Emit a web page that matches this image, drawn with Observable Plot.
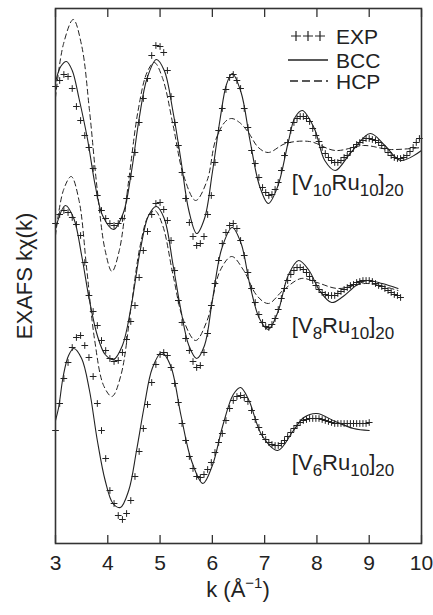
<!DOCTYPE html>
<html><head><meta charset="utf-8">
<script src="https://cdn.jsdelivr.net/npm/d3@7"></script>
<script src="https://cdn.jsdelivr.net/npm/@observablehq/plot@0.6"></script>
<style>
body{margin:0;background:#fff;}
#chart{width:433px;height:615px;}
svg text{font-family:"Liberation Sans",Arial,Helvetica,sans-serif;}
</style></head><body><div id="chart"></div>
<script>
// x ticks
const xTicks = [3,4,5,6,7,8,9,10];

// k positions of experimental samples
const kExp = [3.00,3.08,3.16,3.24,3.32,3.40,3.48,3.56,3.64,3.72,3.80,3.88,3.96,4.04,4.12,4.20,4.28,4.36,4.44,4.52,4.60,4.68,4.76,4.84,4.92,5.00,
  5.07,5.14,5.21,5.28,5.35,5.42,5.49,5.56,5.63,5.70,5.77,5.84,5.91,5.98,6.05,6.12,6.19,6.26,6.33,6.40,6.47,6.54,6.61,6.68,6.75,6.82,6.89,6.96,
  7.02,7.08,7.14,7.20,7.26,7.32,7.38,7.44,7.50,7.56,7.62,7.68,7.74,7.80,7.86,7.92,7.98,8.04,8.10,8.16,8.22,8.28,8.34,8.40,8.46,8.52,8.58,8.64,8.70,8.76,8.82,8.88,8.94,9.00,9.06,9.12,9.18,9.24,9.30,9.36,9.42,9.48,9.54,9.60,9.66,9.72,9.78,9.84,9.90,9.96];

// EXP (offset kχ, arbitrary units)
const expTop = [45.7,46.3,46.9,46.7,45.5,43.7,42.3,40.8,39.6,37.5,34.8,33.3,32.5,32.0,31.8,32.0,32.5,34.5,36.7,39.1,42.1,44.5,46.5,48.8,49.8,49.7,
  49.1,47.3,44.7,42.1,39.8,37.1,34.5,32.1,30.7,29.8,30.0,30.7,32.9,34.8,38.1,41.3,43.5,45.4,46.6,46.9,46.3,45.5,43.5,41.6,39.3,38.0,36.6,35.6,
  35.1,34.8,34.9,35.4,36.1,37.3,38.8,40.1,41.3,42.1,42.5,42.7,42.7,42.5,42.2,41.5,40.8,40.2,39.6,39.0,38.6,38.3,38.1,38.1,38.3,38.6,38.8,39.2,39.6,39.9,40.1,40.3,40.5,40.5,40.4,40.3,40.1,39.8,39.5,39.1,38.8,38.6,38.5,38.5,38.6,38.8,39.2,39.6,40.1,40.5];
const expMid = [32.0,32.9,33.3,33.1,32.6,31.9,30.8,28.1,24.8,23.2,21.8,20.3,19.3,18.5,18.2,18.3,19.1,20.4,22.2,23.8,26.6,29.3,31.2,32.9,34.0,34.1,
  33.4,32.3,30.3,27.3,24.3,22.1,20.5,19.3,18.2,17.6,17.8,19.1,21.0,23.8,26.0,28.3,30.0,31.1,31.8,32.0,31.5,30.3,28.8,27.1,25.5,24.1,22.9,22.1,
  21.7,21.6,21.9,22.5,23.4,24.5,25.5,26.3,26.9,27.3,27.6,27.6,27.4,27.1,26.7,26.3,25.8,25.4,25.1,24.9,24.8,24.8,24.8,25.0,25.2,25.4,25.6,25.8,25.9,26.1,26.2,26.3,26.3,26.3,26.2,26.0,25.8,25.7,25.5,25.3,25.1,24.9,24.8,24.6];
const expBot = [11.3,14.0,16.5,18.1,19.6,20.6,20.8,19.8,18.6,16.7,14.0,11.3,8.5,5.3,4.0,2.8,2.4,3.0,4.3,6.7,9.2,11.5,13.9,16.1,17.9,18.9,
  19.1,18.8,17.6,16.0,14.1,12.0,10.3,8.7,7.5,6.7,6.6,6.9,7.4,8.1,9.1,10.1,11.0,12.3,13.5,14.3,14.7,14.8,14.6,14.2,13.3,12.4,11.6,10.9,
  10.4,10.1,9.9,9.8,9.8,10.0,10.3,10.7,11.1,11.5,11.8,12.1,12.3,12.4,12.5,12.5,12.5,12.5,12.4,12.3,12.2,12.1,12.0,12.0,12.0,12.0,12.0,12.0,12.0,12.0,12.0,12.0,12.0,12.1];

// BCC model
const bccTopK = [3.00,3.10,3.21,3.32,3.45,3.61,3.76,3.90,4.11,4.30,4.45,4.60,4.75,4.93,5.08,5.25,5.40,5.55,5.70,5.85,6.00,6.15,6.27,6.38,6.55,6.72,6.90,7.07,7.25,7.45,7.58,7.72,7.95,8.15,8.35,8.65,9.02,9.30,9.60,10.0];
const bccTopV = [46.1,47.7,48.2,47.3,44.5,40.5,35.8,32.8,31.4,33.1,37.1,42.5,46.5,48.4,47.3,43.1,38.3,33.3,31.0,32.5,37.1,42.5,45.9,47.0,45.1,40.3,35.8,34.0,35.7,40.1,42.6,43.3,41.5,38.3,37.3,39.1,41.0,39.8,38.3,39.3];
const bccMidK = [3.00,3.19,3.35,3.50,3.65,3.80,3.95,4.11,4.28,4.45,4.62,4.78,4.93,5.08,5.25,5.40,5.55,5.70,5.85,6.00,6.18,6.38,6.55,6.72,6.90,7.07,7.25,7.45,7.65,7.85,8.05,8.28,8.50,8.75,8.96,9.25,9.55];
const bccMidV = [31.5,33.8,32.5,28.8,24.3,20.8,18.9,18.4,19.8,23.8,29.3,32.8,33.7,32.5,27.8,23.3,19.8,18.5,19.8,24.3,29.5,31.6,30.0,25.8,22.5,21.4,23.1,26.8,28.3,27.3,25.3,24.1,24.7,25.8,26.3,26.0,25.5];
const bccBotK = [3.00,3.06,3.15,3.25,3.35,3.50,3.65,3.80,3.95,4.10,4.24,4.40,4.55,4.70,4.85,5.03,5.20,5.40,5.60,5.82,6.00,6.20,6.40,6.54,6.70,6.95,7.25,7.55,7.75,8.00,8.35,8.70,9.00];
const bccBotV = [12.3,13.6,16.8,18.8,19.5,18.5,15.3,10.3,6.3,4.0,3.6,5.3,9.3,13.8,17.5,19.1,17.8,12.8,8.3,6.0,7.8,11.8,14.9,15.6,14.3,10.8,9.3,11.3,12.6,13.0,12.2,11.5,11.3];

// HCP model
const hcpTopK = [3.00,3.15,3.34,3.50,3.65,3.80,3.95,4.08,4.22,4.40,4.58,4.75,4.89,5.05,5.25,5.45,5.68,5.90,6.06,6.25,6.37,6.52,6.69,6.88,7.07,7.40,7.86,8.35,8.90,9.40,10.0];
const hcpTopV = [44.6,49.9,52.4,49.8,43.3,35.3,29.3,27.2,29.3,36.3,43.3,47.1,48.1,46.5,41.8,36.8,34.3,36.3,40.3,42.2,42.5,42.1,41.1,39.6,39.1,40.0,40.2,39.3,39.8,39.4,39.6];
const hcpMidK = [3.00,3.15,3.30,3.45,3.60,3.75,3.92,4.08,4.25,4.45,4.62,4.78,4.90,5.05,5.25,5.45,5.68,5.90,6.15,6.37,6.60,6.85,7.07,7.35,7.70,8.00,8.40,8.96,9.55];
const hcpMidV = [30.8,35.3,36.7,34.3,27.3,20.3,15.8,14.7,16.8,23.8,29.8,32.8,33.3,31.8,26.8,22.3,20.3,22.3,27.3,28.7,27.3,24.8,24.0,25.3,26.5,26.1,25.5,26.0,25.3];

// sample labels
const sampleV = ["10","8","6"];
const sampleRu = ["10","10","10"];
const sampleN = ["20","20","20"];
const labelK = [7.53,7.53,7.53];
const labelV = [35.3,21.0,7.3];

const legendNames = ["EXP","BCC","HCP"];

const zip = (ks, vs, g) => vs.map((v,i)=>({k: ks[i], v, g}));
const expData = [...zip(kExp, expTop, "top"), ...zip(kExp, expMid, "mid"), ...zip(kExp, expBot, "bot")];
const bccData = [...zip(bccTopK, bccTopV, "top"), ...zip(bccMidK, bccMidV, "mid"), ...zip(bccBotK, bccBotV, "bot")];
const hcpData = [...zip(hcpTopK, hcpTopV, "top"), ...zip(hcpMidK, hcpMidV, "mid")];

const plot = Plot.plot({
  width: 433, height: 615,
  marginLeft: 55, marginRight: 12, marginTop: 8, marginBottom: 72,
  style: {fontFamily: '"Liberation Sans",Arial,sans-serif', fontSize: "21px", background: "#fff", color: "#222"},
  x: {domain: [3, 10], ticks: xTicks},
  y: {domain: [0, 53.5], axis: null},
  marks: [
    Plot.line(hcpData, {x: "k", y: "v", z: "g", curve: "catmull-rom", stroke: "#222", strokeWidth: 1, strokeDasharray: "5,3.5"}),
    Plot.line(bccData, {x: "k", y: "v", z: "g", curve: "catmull-rom", stroke: "#222", strokeWidth: 1.1}),
    Plot.dot(expData, {x: "k", y: "v", symbol: "plus", r: 2.3, stroke: "#222", strokeWidth: 1}),
    Plot.axisX({anchor: "bottom", ticks: xTicks, tickFormat: "d", tickSize: -8, tickPadding: 20, label: null, stroke: "#333", strokeWidth: 1.3, fontSize: 21}),
    Plot.axisX({anchor: "top", ticks: xTicks, tickSize: -8, tickFormat: () => "", label: null, stroke: "#333", strokeWidth: 1.3}),
    Plot.frame({stroke: "#333", strokeWidth: 1.6})
  ]
});
document.getElementById("chart").appendChild(plot);

const svg = d3.select(plot);
const sx = plot.scale("x"), sy = plot.scale("y");

// sample labels with subscripts
labelK.forEach((k, i) => {
  const t = svg.append("text").attr("x", sx.apply(k)).attr("y", sy.apply(labelV[i]))
    .attr("text-anchor", "start").attr("fill", "#222").style("font-size", "22px");
  t.append("tspan").text("[V");
  t.append("tspan").attr("dy", 6).style("font-size", "17px").text(sampleV[i]);
  t.append("tspan").attr("dy", -6).text("Ru");
  t.append("tspan").attr("dy", 6).style("font-size", "17px").text(sampleRu[i]);
  t.append("tspan").attr("dy", -6).text("]");
  t.append("tspan").attr("dy", 6).style("font-size", "17px").text(sampleN[i]);
});

// axis titles
svg.append("text").attr("transform", "translate(24,276) rotate(-90)")
  .attr("text-anchor", "middle").attr("dominant-baseline", "central")
  .attr("fill", "#222").style("font-size", "22px").text("EXAFS kχ(k)");
const xl = svg.append("text").attr("x", 238).attr("y", 597).attr("text-anchor", "middle")
  .attr("fill", "#222").style("font-size", "22px");
xl.append("tspan").text("k (Å");
xl.append("tspan").attr("dy", -9).style("font-size", "15px").text("−1");
xl.append("tspan").attr("dy", 9).text(")");

// legend
const lg = svg.append("g").attr("fill", "#222").attr("text-anchor", "start").style("font-size", "21px");
[296, 308, 320].forEach(x => lg.append("path").attr("d", `M${x-5},36H${x+5}M${x},31V41`).attr("stroke", "#222").attr("stroke-width", 1.2));
lg.append("line").attr("x1", 288).attr("x2", 328).attr("y1", 60).attr("y2", 60).attr("stroke", "#222").attr("stroke-width", 1.3);
lg.append("line").attr("x1", 290).attr("x2", 328).attr("y1", 81).attr("y2", 81).attr("stroke", "#222").attr("stroke-width", 1.3).attr("stroke-dasharray", "8,4");
legendNames.forEach((n, i) => lg.append("text").attr("x", 336).attr("y", [44, 68, 89][i]).attr("text-anchor", "start").text(n));
</script></body></html>
